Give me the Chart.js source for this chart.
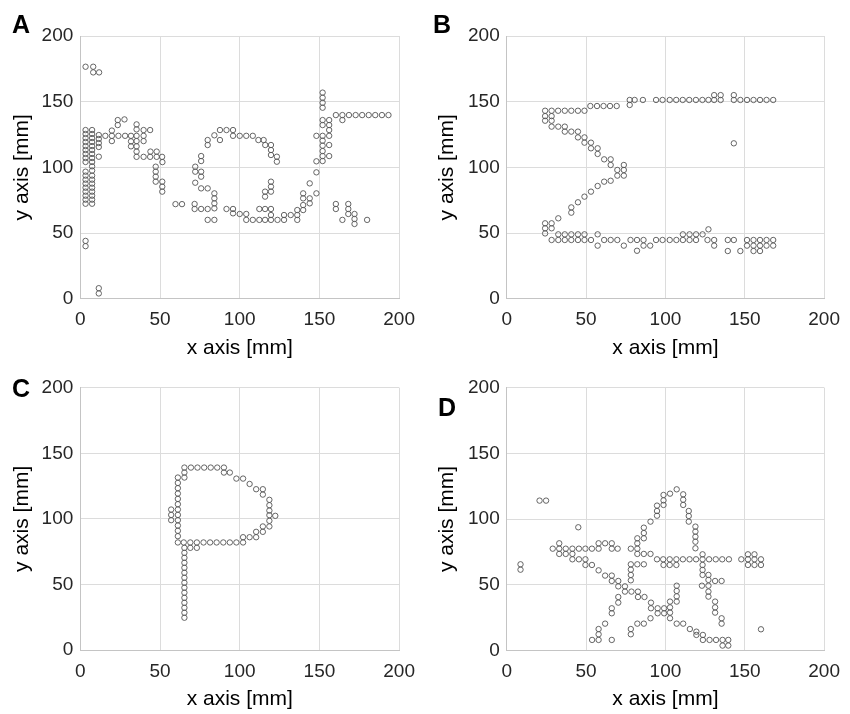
<!DOCTYPE html>
<html><head><meta charset="utf-8">
<script src="https://cdn.jsdelivr.net/npm/chart.js@4.4.0/dist/chart.umd.min.js"></script>
<style>
body{margin:0;background:#fff;width:850px;height:714px;position:relative;overflow:hidden;font-family:"Liberation Sans",Arial,sans-serif}
canvas{position:absolute}
.lbl{position:absolute;font-weight:bold;font-size:25px;line-height:25px;color:#000;font-family:"Liberation Sans",Arial,sans-serif}
</style></head><body>
<canvas id="cA" width="425" height="363" style="left:0;top:0"></canvas>
<canvas id="cB" width="425" height="363" style="left:425px;top:0"></canvas>
<canvas id="cC" width="425" height="351" style="left:0;top:363px"></canvas>
<canvas id="cD" width="425" height="351" style="left:425px;top:363px"></canvas>
<div class="lbl" style="left:12px;top:12px">A</div>
<div class="lbl" style="left:433px;top:12px">B</div>
<div class="lbl" style="left:12px;top:376px">C</div>
<div class="lbl" style="left:438px;top:395px">D</div>
<script>
const axisTicks = [0, 50, 100, 150, 200];
const xTitle = 'x axis [mm]';
const yTitle = 'y axis [mm]';

const pointsA = [
 [3.3,176.6],[8.1,176.6],[8.1,172.3],[11.8,172.3],
 [3.3,128.4],[3.3,125.4],[3.3,122.3],[3.3,119.3],[3.3,116.2],[3.3,113.2],[3.3,110.2],[3.3,107.1],[3.3,104.1],
 [3.3,96.7],[3.3,93.7],[3.3,90.6],[3.3,87.6],[3.3,84.5],[3.3,81.5],[3.3,78.4],[3.3,75.4],[3.3,72.3],
 [7.4,128.4],[7.4,125.4],[7.4,122.3],[7.4,119.3],[7.4,116.2],[7.4,113.2],[7.4,110.2],[7.4,107.1],[7.4,104.1],[7.4,100.8],[7.4,97.5],[7.4,93.7],[7.4,90.6],[7.4,87.6],[7.4,84.5],[7.4,81.5],[7.4,78.4],[7.4,75.4],[7.4,72.3],
 [11.6,124.6],[11.6,121.6],[11.6,118.5],[11.6,115.5],[11.6,108.1],
 [15.7,124],[19.8,128],[19.8,124],[19.8,120],[23.9,124],[28.1,124],
 [23.5,136],[23.5,132.2],[27.7,136.5],
 [35.3,132.7],[35.3,128.9],[39.7,128.4],[43.8,128.4],
 [31.8,124],[35.3,124],[39.7,124],
 [31.8,119.8],[31.8,116],[35.3,120],[35.3,116],[39.7,120],
 [35.3,112],[35.3,108],[39.7,108],[43.8,108],[47.9,108],[47.9,112],[44,112],[51.3,108],[51.5,104],
 [47.3,100.5],[47.3,96.7],[47.3,92.9],[47.3,89.1],[51.4,89.1],[51.4,85.3],[51.4,81.5],
 [59.7,72],[63.8,72],
 [3.3,44],[3.3,40],[11.6,8],[11.6,4],
 [72.1,100.5],[72.1,96.7],[75.8,108.6],[75.8,104.8],[75.8,96.7],[75.8,92.9],[72.1,88.3],[75.8,84],[79.9,84],
 [84.1,80.2],[84.1,76.4],[84.1,72.6],[84.1,68.8],[71.7,72.1],[71.7,68.3],[75.8,68.3],[79.9,68.3],[79.9,60],[84.1,60],
 [79.9,117],[79.9,120.8],[84.1,124.4],[87.6,120.8],[87.6,128.4],[91.7,128.4],[95.8,128.4],[95.8,124],[100,124],[104.1,124],[108.2,124],[111.7,120.8],[115,120.8],[116,117],[119.6,117],[119.6,113.2],[119.6,109.4],[123.3,108.1],[123.3,104.3],
 [119.6,89.1],[119.6,85.3],[119.6,81.5],[115.9,81.5],[115.9,77.7],
 [91.7,68.3],[95.8,68.3],[95.8,65],[100,64.5],[104.1,64.5],[104.1,60],[108.2,60],[112.3,60],[115.9,60],[119.6,60],[123.7,60],[127.8,60],[127.8,63.7],[132,63.7],[136.1,63.7],[136.1,60],[136.1,67.5],[139.8,67.5],[139.8,71.3],[139.8,76.4],[139.8,80.2],
 [112.3,68.3],[115.9,68.3],[119.6,68.3],[119.6,63.7],
 [143.9,76.4],[143.9,72.6],[143.9,87.8],[148.1,80.2],[148.1,96.2],[148.1,104.6],[148.1,124],
 [152,156.9],[152,153],[152,149.2],[152,145.4],[152,136],[152,132.2],[152,124],[152,120.3],[152,116.5],[152,112.4],[152,108.6],[152,104.8],
 [156.1,136],[156.1,132.2],[156.1,128.4],[156.1,124],[156.1,117],[156.1,108.6],
 [160.3,139.8],[164.4,139.8],[168.5,139.8],[172.7,139.8],[176.8,139.8],[180.9,139.8],[185,139.8],[189.2,139.8],[193.3,139.8],[164.4,136],
 [160.3,72.1],[160.3,68.3],[164.4,60],[168.1,72.1],[168.1,68.3],[168.1,64.5],[172,64.5],[172,60.7],[172,56.9],[179.9,60]
];

const pointsB = [
 [24.2,143.1],[28.3,143.1],[32.4,143.1],[36.6,143.1],[40.7,143.1],[44.9,143.1],[49,143.1],
 [24.2,139],[28.3,139],[24.2,135.5],[28.3,135.5],
 [52.7,146.7],[56.9,146.7],[61,146.7],[65.1,146.7],[69.3,146.7],
 [77.5,151.3],[77.5,147.5],[80.6,151.3],[85.8,151.3],[94.1,151.3],[98.2,151.3],
 [28.3,131],[32.5,131],[36.6,131],[36.6,127.2],[40.7,127.2],[44.9,127.2],[44.9,122.8],[49,122.8],[49,118.8],[53.1,118.8],[53.1,114.5],[57.3,114.5],[57.3,110.2],[61.4,106.1],[65.5,106.1],[65.5,101.8],[69.7,98],[73.8,101.8],[73.8,98],[73.8,93.7],[69.7,93.7],
 [65.5,89.8],[61.4,89.1],[57.3,85.8],[53.1,81.5],[49,77.7],[44.9,73.4],[40.7,69.5],[40.7,65.5],[32.5,61.2],[28.3,57.4],[24.2,57.4],[24.2,53.6],[28.3,53.6],[24.2,49.7],
 [32.5,49],[36.6,49],[40.7,49],[44.9,49],[49,49],[57.3,49],
 [28.3,44.7],[32.5,44.7],[36.6,44.7],[40.7,44.7],[44.9,44.7],[49,44.7],[53.1,44.7],[61.4,44.7],[65.5,44.7],[69.7,44.7],[78,44.7],[82.1,44.7],[86.2,44.7],[94.1,44.7],[98.2,44.7],
 [57.3,40.4],[73.8,40.4],[86.2,40.4],[90.4,40.4],[82.1,36.5],
 [102.7,151.3],[106.8,151.3],[110.9,151.3],[115,151.3],[119.2,151.3],[123.3,151.3],[127.1,151.3],[130.7,151.3],[134.8,151.3],
 [130.7,155],[134.8,155],[143.1,155],[143.1,151.3],[147.2,151.3],[151.4,151.3],[155.5,151.3],[159.6,151.3],[163.7,151.3],[167.9,151.3],
 [143.1,118.3],
 [102.7,44.7],[106.9,44.7],[111,44.7],[115.2,44.7],[119.3,44.7],[126.5,44.7],[130.7,44.7],[139.3,44.7],[143.1,44.7],[151.4,44.7],[155.5,44.7],[159.6,44.7],[163.7,44.7],[167.9,44.7],
 [111,49],[115.2,49],[119.3,49],[123.4,49],[127.1,52.8],
 [130.7,40.4],[151.4,40.4],[155.5,40.4],[159.6,40.4],[163.7,40.4],[167.9,40.4],
 [139.3,36.3],[147.2,36.3],[155.5,36.3],[159.6,36.3]
];

const pointsC = [
 [65.3,139.1],[69.4,139.1],[73.5,139.1],[77.7,139.1],[81.8,139.1],[85.9,139.1],[90.1,139.1],
 [65.3,135.3],[65.3,131.5],[90.1,135.3],[93.8,135.3],[97.9,130.7],[102.1,130.7],[106.2,126.6],[110.3,122.6],[114.5,122.6],[114.5,118.5],
 [118.6,114.5],[118.6,110.4],[118.6,106.3],[118.6,102.8],[118.6,98.5],[118.6,94.2],[122.3,102.3],
 [114.5,94.2],[114.5,90.1],[110.3,90.1],[110.3,86],[106.2,86],[102.1,86],[102.1,82],[97.9,82],[93.8,82],[89.7,82],[85.5,82],[81.4,82],[77.3,82],[73.1,82],[69,82],[64.9,82],
 [69,77.9],[73.1,77.9],
 [61.2,131.5],[61.2,127.4],[61.2,123.4],[61.2,119.3],[61.2,115.2],[61.2,111.2],[61.2,107.1],[61.2,103],[61.2,99],[61.2,94.9],[61.2,90.9],[61.2,86.8],[61.2,82],
 [57,107.1],[57,103],[57,99],
 [65.3,77.9],[65.3,74.1],[65.3,70.3],[65.3,66.5],[65.3,62.7],[65.3,58.9],[65.3,55.1],[65.3,51.3],[65.3,47.5],[65.3,43.7],[65.3,39.8],[65.3,36],[65.3,32.2],[65.3,28.4],[65.3,24.6]
];

const pointsD = [
 [8.7,65.5],[8.7,61.4],[20.7,114],[24.8,114],[45.1,93.7],
 [29,77.4],[33.1,77.4],[37.2,77.4],[41.4,77.4],[45.5,77.4],[49.6,77.4],[53.7,77.4],[57.9,77.4],[66.2,77.4],[69.9,77.4],[78.2,77.4],
 [33.1,81.5],[57.9,81.5],[62,81.5],[66.2,81.5],
 [33.1,73.4],[37.2,73.4],[41.4,73.4],[41.4,69.3],[45.5,69.3],[49.6,69.3],[49.6,65],[53.7,65],[57.9,60.9],[62,56.9],[66.2,56.9],[66.2,52.8],[70.3,52.8],[70.3,48.7],[74.5,48.7],[74.5,44.7],[78.6,44.7],[82.7,44.7],[82.7,40.6],[86.8,40.6],[90.9,36.3],[90.9,32],[95.1,32],[99.2,32],[95.1,28.2],[99.2,28.2],
 [78.2,65.5],[78.2,61.4],[78.2,57.4],[78.2,53.3],[82.3,65.5],[86.4,65.5],[82.3,73.4],[82.3,77.4],[82.3,81.5],[82.3,85.3],[86.4,85.3],[86.4,89.3],[86.4,93.4],[90.6,98],[94.7,102.5],[94.7,106.1],[94.7,110.2],[98.8,114.2],[98.8,118.3],
 [86.4,73.4],[90.6,73.4],[94.7,69.3],[98.8,65],
 [70.3,40.6],[70.3,36.3],[66.2,32],[66.2,28.2],[62,20.3],[57.9,16.2],[57.9,12.2],[53.8,7.9],[57.9,7.9],[66.2,7.9],
 [78.2,16.2],[78.2,12.2],[82.3,20.3],[86.4,20.3],[90.6,24.4],
 [98.8,110.7],[102.9,119.3],[107.1,122.6],[111.2,118.8],[111.2,114.7],[111.2,110.7],
 [114.7,106.1],[114.7,102.3],[114.7,98],[118.9,94.2],[118.9,90.4],[118.9,86.5],[118.9,82.7],[118.9,77.7],
 [98.6,69.3],[102.7,69.3],[106.9,69.3],[111,69.3],[115.2,69.3],[119.3,69.3],[123.4,69.3],[127.5,69.3],[131.7,69.3],[135.8,69.3],[140,69.3],
 [102.7,65],[106.9,65],
 [147.8,69.3],[152,73.1],[152,69.3],[152,65],[156.1,73.1],[156.1,69.3],[156.1,65],[160.2,69.3],[160.2,65],
 [123.4,73.1],[123.4,65],[123.4,61.2],[123.4,57.4],[127.1,57.4],[127.1,53.6],[127.1,49.2],[127.1,44.7],[127.1,40.9],[131.3,52.8],[135.4,52.8],[123,49.2],
 [131.3,37.1],[131.3,32.7],[131.3,28.7],[135.4,24.4],[135.4,20.3],
 [107.1,49.2],[107.1,45.2],[107.1,41.1],[107.1,37.1],[102.9,37.1],[102.9,32.7],[102.9,28.7],
 [102.9,24.4],[107.1,20.3],[111.2,20.3],[115.4,16.2],[119.5,14.2],[119.5,11.7],[123.6,11.7],[123.6,7.9],[127.8,7.9],[131.9,7.9],[136,7.9],[136,3.6],[139.6,7.9],[139.6,3.6],
 [160.2,16]
];

const FONT = '"Liberation Sans", Arial, sans-serif';

function makeChart(id, pts, yAxisW, padTop, padRight, xAxisH) {
  return new Chart(document.getElementById(id), {
    type: 'scatter',
    data: { datasets: [{
      data: pts.map(p => ({ x: p[0], y: p[1] })),
      pointStyle: 'circle',
      pointRadius: 2.7,
      pointHoverRadius: 2.7,
      borderWidth: 0.9,
      borderColor: '#555555',
      backgroundColor: 'rgba(255,255,255,0)'
    }]},
    options: {
      responsive: false,
      animation: false,
      events: [],
      layout: { padding: { top: padTop, right: padRight, left: 0, bottom: 0 } },
      plugins: { legend: { display: false }, tooltip: { enabled: false } },
      scales: {
        x: {
          type: 'linear', min: axisTicks[0], max: axisTicks[axisTicks.length - 1],
          afterBuildTicks: s => { s.ticks = axisTicks.map(v => ({ value: v })); },
          ticks: { font: { size: 19, family: FONT }, color: '#262626', padding: 10, maxRotation: 0 },
          grid: { color: '#dcdcdc', drawTicks: false, lineWidth: 1 },
          border: { color: '#c4c4c4' },
          title: { display: true, text: xTitle, font: { size: 21, family: FONT }, color: '#000', padding: { top: 0, bottom: 2 } },
          afterFit: s => { s.height = xAxisH; }
        },
        y: {
          type: 'linear', min: axisTicks[0], max: axisTicks[axisTicks.length - 1],
          afterBuildTicks: s => { s.ticks = axisTicks.map(v => ({ value: v })); },
          ticks: { font: { size: 19, family: FONT }, color: '#262626', padding: 7 },
          grid: { color: '#dcdcdc', drawTicks: false, lineWidth: 1 },
          border: { color: '#c4c4c4' },
          title: { display: true, text: yTitle, font: { size: 21, family: FONT }, color: '#000', padding: { top: 10, bottom: 0 } },
          afterFit: s => { s.width = yAxisW; }
        }
      }
    }
  });
}

makeChart('cA', pointsA, 80.3, 36, 20.5, 64.3);
makeChart('cB', pointsB, 81.7, 36, 21, 64.3);
makeChart('cC', pointsC, 80.3, 24.7, 20.5, 64);
makeChart('cD', pointsD, 81.7, 24.7, 21, 63.7);
</script>
</body></html>
